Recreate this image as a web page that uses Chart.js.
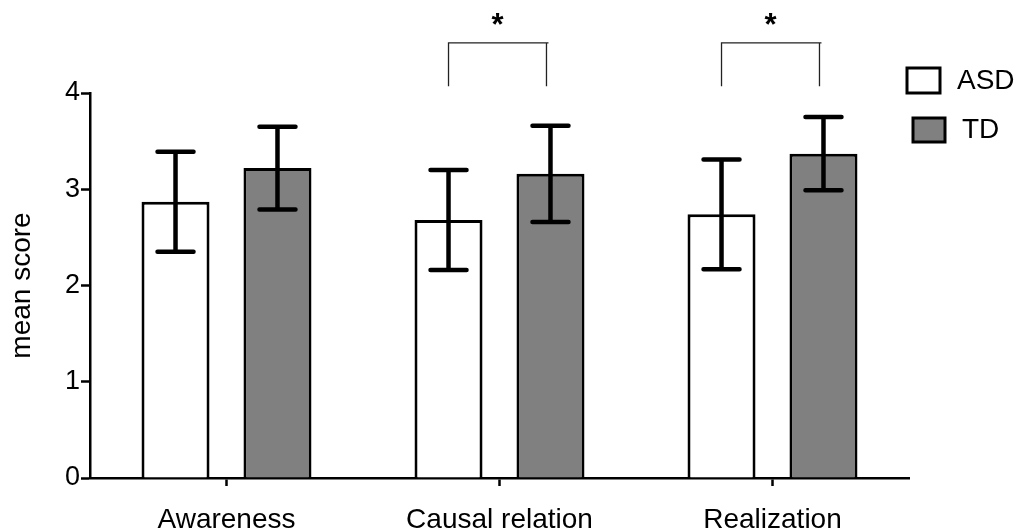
<!DOCTYPE html>
<html>
<head>
<meta charset="utf-8">
<script src="https://cdn.jsdelivr.net/npm/chart.js@4.4.0/dist/chart.umd.min.js"></script>
<style>
  html, body { margin:0; padding:0; background:#fff; }
  #wrap { width:1017px; height:530px; }
</style>
</head>
<body>
<div id="wrap"><canvas id="chart" width="1017" height="530"></canvas></div>
<script>
/* data */
const categories = ['Awareness', 'Causal relation', 'Realization'];
const groupNames = ['ASD', 'TD'];
const asdMean = [2.87, 2.68, 2.74];
const asdErr  = [0.52, 0.52, 0.57];
const tdMean  = [3.22, 3.16, 3.37];
const tdErr   = [0.43, 0.50, 0.38];
const yTicks  = [0, 1, 2, 3, 4];
const sigCategories = [1, 2];      // ASD vs TD marked with *
const bracketLow  = 4.07;
const bracketHigh = 4.52;

const FONT = '"Liberation Sans", Arial, Helvetica, sans-serif';

/* ── error bars ── */
const errorBars = {
    id: 'errorBars',
    afterDatasetsDraw(chart) {
        const { ctx, scales: { y } } = chart;
        ctx.save();
        ctx.strokeStyle = '#000';
        ctx.lineWidth = 4.5;
        chart.data.datasets.forEach((ds, i) => {
            chart.getDatasetMeta(i).data.forEach((bar, j) => {
                const top = y.getPixelForValue(ds.data[j] + ds.err[j]);
                const bot = y.getPixelForValue(ds.data[j] - ds.err[j]);
                const x = bar.x, half = 18;
                ctx.lineCap = 'butt';
                ctx.beginPath(); ctx.moveTo(x, top); ctx.lineTo(x, bot); ctx.stroke();
                ctx.lineCap = 'round';
                ctx.beginPath();
                ctx.moveTo(x - half, top); ctx.lineTo(x + half, top);
                ctx.moveTo(x - half, bot); ctx.lineTo(x + half, bot);
                ctx.stroke();
            });
        });
        ctx.restore();
    }
};

/* ── significance brackets ── */
const sigMarks = {
    id: 'sigMarks',
    afterDraw(chart) {
        const { ctx, scales: { y } } = chart;
        const a = chart.getDatasetMeta(0).data, b = chart.getDatasetMeta(1).data;
        const yLo = y.getPixelForValue(bracketLow), yHi = y.getPixelForValue(bracketHigh);
        ctx.save();
        ctx.strokeStyle = '#222';
        ctx.lineWidth = 1.3;
        sigCategories.forEach(c => {
            const x1 = a[c].x, x2 = b[c].x - 4;
            ctx.beginPath();
            ctx.moveTo(x1, yLo); ctx.lineTo(x1, yHi); ctx.lineTo(x2 + 2, yHi);
            ctx.moveTo(x2, yHi); ctx.lineTo(x2, yLo);
            ctx.stroke();
            ctx.fillStyle = '#000';
            ctx.font = 'bold 31px ' + FONT;
            ctx.textAlign = 'center';
            ctx.textBaseline = 'alphabetic';
            ctx.fillText('*', (x1 + x2) / 2, yHi - 8);
        });
        ctx.restore();
    }
};

/* ── legend on the right ── */
const boxLegend = {
    id: 'boxLegend',
    afterDraw(chart) {
        const { ctx } = chart;
        const spots = [ { x:907, y:68, w:33, h:25, tx:957, ty:81 }, { x:913, y:118, w:32, h:24, tx:962, ty:130 } ];
        ctx.save();
        chart.data.datasets.forEach((ds, i) => {
            const s = spots[i];
            ctx.fillStyle = ds.backgroundColor;
            ctx.fillRect(s.x, s.y, s.w, s.h);
            ctx.strokeStyle = '#000';
            ctx.lineWidth = 3;
            ctx.strokeRect(s.x, s.y, s.w, s.h);
            ctx.fillStyle = '#000';
            ctx.font = '28px ' + FONT;
            ctx.textAlign = 'left';
            ctx.textBaseline = 'middle';
            ctx.fillText(ds.label, s.tx, s.ty);
        });
        ctx.restore();
    }
};

new Chart(document.getElementById('chart').getContext('2d'), {
    type: 'bar',
    data: {
        labels: categories,
        datasets: [
            { label: groupNames[0], data: asdMean, err: asdErr, backgroundColor: '#ffffff', borderColor: '#000', borderWidth: 3 },
            { label: groupNames[1], data: tdMean,  err: tdErr,  backgroundColor: '#808080', borderColor: '#000', borderWidth: 3 }
        ]
    },
    options: {
        responsive: false,
        animation: false,
        devicePixelRatio: 1,
        categoryPercentage: 0.747,
        barPercentage: 0.667,
        layout: { padding: { top: 93, right: 108, left: 0, bottom: 0 } },
        plugins: { legend: { display: false }, tooltip: { enabled: false } },
        scales: {
            x: {
                grid: { display: true, drawOnChartArea: false, offset: false, tickLength: 8, tickWidth: 2.5, color: '#000' },
                border: { display: true, color: '#000', width: 2.5 },
                ticks: { color: '#000', padding: 17, font: { family: FONT, size: 28 } },
                afterFit(s) { s.height = 52; }
            },
            y: {
                min: 0, max: 4,
                afterBuildTicks(s) { s.ticks = yTicks.map(v => ({ value: v })); },
                grid: { display: true, drawOnChartArea: false, tickLength: 9, tickWidth: 2.5, color: '#000' },
                border: { display: true, color: '#000', width: 2.5 },
                ticks: { color: '#000', padding: 1, font: { family: FONT, size: 27 } },
                title: { display: true, text: 'mean score', color: '#000', padding: { top: 5, bottom: 0 }, font: { family: FONT, size: 28 } },
                afterFit(s) { s.width = 90; }
            }
        }
    },
    plugins: [errorBars, sigMarks, boxLegend]
});
</script>
</body>
</html>
